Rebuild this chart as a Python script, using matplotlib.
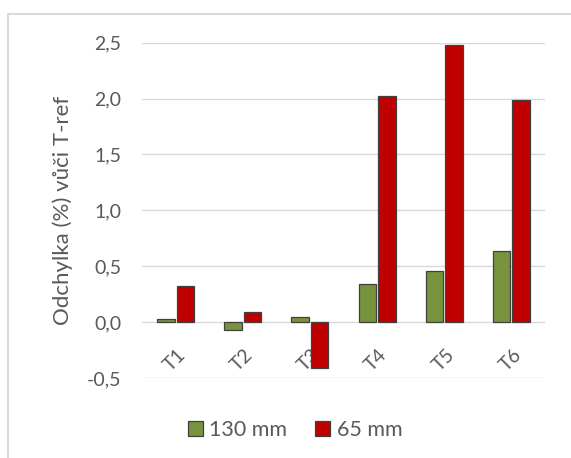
import matplotlib
matplotlib.use("Agg")
import matplotlib.pyplot as plt
from matplotlib.lines import Line2D
from matplotlib.patches import Patch
import numpy as np

categories = ["T1", "T2", "T3", "T4", "T5", "T6"]
series_130 = [0.03, -0.07, 0.045, 0.34, 0.455, 0.635]
series_65 = [0.32, 0.09, -0.415, 2.02, 2.48, 1.99]
y_ticks = [-0.5, 0.0, 0.5, 1.0, 1.5, 2.0, 2.5]
y_tick_labels = ["-0,5", "0,0", "0,5", "1,0", "1,5", "2,0", "2,5"]
series_names = ["130 mm", "65 mm"]

plt.rcParams['font.family'] = ['Lato', 'DejaVu Sans']
txt = '#595959'
green = '#77933c'
red = '#c00000'
edge = '#404040'

fig = plt.figure(figsize=(5.71, 4.58), dpi=100)
ax = fig.add_axes([142/571, 80/458, (545-142)/571, (378-42.7)/458])

x = np.arange(len(categories))
w = 0.26
gap = 0.015
ax.bar(x - w/2 - gap, series_130, width=w, color=green, edgecolor=edge, linewidth=0.9, zorder=3)
ax.bar(x + w/2 + gap, series_65, width=w, color=red, edgecolor=edge, linewidth=0.9, zorder=3)

ax.set_xlim(-0.5, len(categories) - 0.5)
ax.set_ylim(-0.5, 2.5)
ax.set_yticks(y_ticks)
ax.set_yticklabels(y_tick_labels, color=txt, fontsize=14)
ax.yaxis.grid(True, color='#d9d9d9', linewidth=1.0, zorder=0)
ax.set_axisbelow(True)
for s in ['left', 'right', 'top']:
    ax.spines[s].set_visible(False)
ax.spines['bottom'].set_position(('data', 0))
ax.spines['bottom'].set_visible(False)
ax.tick_params(axis='both', length=0)
ax.tick_params(axis='y', pad=15)
ax.set_xticks(x + 0.02)
ax.set_xticklabels(categories, rotation=45, color=txt, fontsize=14, ha='right', va='top', rotation_mode='anchor')
ax.tick_params(axis='x', pad=17)
ax.set_ylabel("Odchylka (%) vůči T-ref", color=txt, fontsize=16, labelpad=10)

handles = [Patch(facecolor=green, edgecolor=edge, linewidth=0.9),
           Patch(facecolor=red, edgecolor=edge, linewidth=0.9)]
leg = fig.legend(handles, series_names, loc='center', bbox_to_anchor=(295/571, 1 - 430/458),
                 ncol=2, frameon=False, fontsize=15.5, handlelength=0.7, handleheight=0.7,
                 handletextpad=0.3, columnspacing=1.3, labelcolor=txt)

# chart frame (left and top edges)
fig.add_artist(Line2D([8/571, 8/571], [0, 1 - 14/458], transform=fig.transFigure, color='#d9d9d9', linewidth=1.5))
fig.add_artist(Line2D([8/571, 1], [1 - 14/458, 1 - 14/458], transform=fig.transFigure, color='#d9d9d9', linewidth=1.5))

fig.savefig("out.png", dpi=100)
